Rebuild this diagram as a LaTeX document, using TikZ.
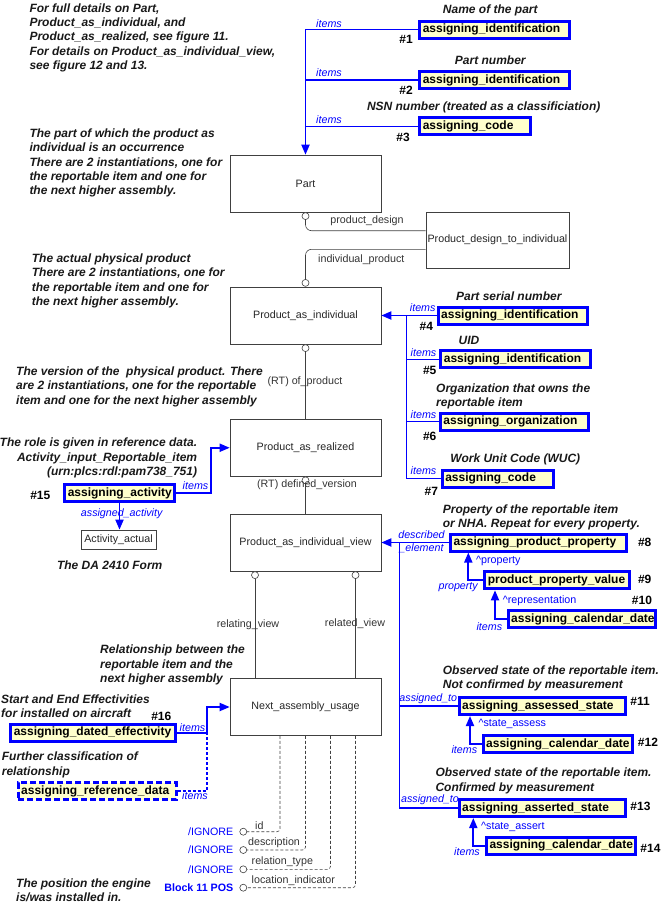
\documentclass[tikz,border=0pt]{standalone}
\usepackage{fontspec}
\setmainfont{Liberation Sans}
\usetikzlibrary{arrows.meta,calc}
\definecolor{cBlue}{HTML}{0000FF}
\definecolor{cYellow}{HTML}{FFFFCC}
\definecolor{cGray}{HTML}{404040}
\newcommand\cmtfont{\fontsize{12}{14.3}\selectfont\bfseries\itshape}
\newcommand\lblfont{\fontsize{10.7}{12.8}\selectfont}
\newcommand\boxfont{\fontsize{12}{14}\selectfont\bfseries}

\begin{document}
\begin{tikzpicture}[x=1pt, y=-1pt,
   ent/.style={draw=cGray, fill=white, semithick, minimum width=151pt,
               minimum height=57pt, inner sep=0pt, font=\lblfont, text=black!85},
   asg/.style={draw=cBlue, fill=cYellow, line width=3pt, inner xsep=3pt,
               inner ysep=0pt, minimum height=17pt, text width=#1, align=left,
               font=\boxfont, execute at begin node={\hyphenpenalty=10000 }},
   ring/.style={circle, draw=cGray, fill=white, semithick, minimum size=7pt, inner sep=0pt},
   rel/.style={draw=cGray, semithick},
   attr/.style={rel, dash pattern=on 3pt off 2pt, rounded corners=3pt},
   link/.style={cBlue, line width=1.3pt},
   blarr/.style={line width=1.8pt, -{Triangle[length=10pt,width=8pt]}},
   note/.style={font=\cmtfont, align=left, anchor=west, inner sep=0pt, text=black!90},
   num/.style={font=\boxfont, inner sep=0pt},
   role/.style={font=\lblfont, inner sep=0pt, text=black!80},
   itm/.style={font=\lblfont\itshape, inner sep=0pt, text=cBlue},
   bref/.style={font=\lblfont, inner sep=0pt, text=cBlue}]
  \useasboundingbox (0,0) rectangle (662,905);

  % entities
  \node[ent] (part) at (305.5,183.5) {Part};
  \node[ent, minimum width=143pt, minimum height=56pt] (pdti) at (497.5,240) {Product\_design\_to\_individual};
  \node[ent] (pai) at (305.5,315.5) {Product\_as\_individual};
  \node[ent] (par) at (305.5,447.75) {Product\_as\_realized};
  \node[ent] (paiv) at (305.5,542.5) {Product\_as\_individual\_view};
  \node[ent] (nau) at (305.5,707) {Next\_assembly\_usage};
  \node[ent, minimum width=75pt, minimum height=19.5pt] (actual) at (118.5,539.7) {Activity\_actual};

  % relations with rings
  \node[ring, anchor=north] (o1) at (part.south) {};
  \node[ring, anchor=south] (o2) at (pai.north) {};
  \node[ring, anchor=north] (o3) at (pai.south) {};
  \node[ring, anchor=north] (o4) at (par.south) {};
  \node[ring, anchor=north] (o5) at ([xshift=-50.5pt]paiv.south) {};
  \node[ring, anchor=north] (o6) at ([xshift=50pt]paiv.south) {};
  \draw[rel, rounded corners=6pt] (o1.south) |- ([yshift=9.3pt]pdti.west);
  \draw[rel, rounded corners=6pt] ([yshift=-9.3pt]pdti.west) -| (o2.north);
  \draw[rel] (o3.south) -- (par.north);
  \draw[rel] (o4.south) -- (paiv.north);
  \draw[rel] (o5.south) -- (o5.south |- nau.north);
  \draw[rel] (o6.south) -- (o6.south |- nau.north);
  \node[role] (l1) at (367,220.7) {product\_design};
  \node[role] (l2) at (361.3,260) {individual\_product};
  \node[role] (l3) at (305,381.7) {(RT) of\_product};
  \node[role] (l4) at (307,485) {(RT) defined\_version};
  \node[role] (l5) at (248,624.3) {relating\_view};
  \node[role] (l6) at (355,624) {related\_view};

  % attributes of Next_assembly_usage
  \node[ring] (a1) at (243.3,831.7) {};
  \node[ring] (a2) at (243.3,850) {};
  \node[ring] (a3) at (243.3,869.3) {};
  \node[ring] (a4) at (243.3,887.7) {};
  \draw[attr] ([xshift=-25.5pt]nau.south) |- (a1.east);
  \draw[attr] (nau.south) |- (a2.east);
  \draw[attr] ([xshift=25pt]nau.south) |- (a3.east);
  \draw[attr] ([xshift=50pt]nau.south) |- (a4.east);
  \node[role, anchor=south west] (l7) at (255,829.5) {id};
  \node[role, anchor=south west] (l8) at (248,847.8) {description};
  \node[role, anchor=south west] (l9) at (251.5,867.1) {relation\_type};
  \node[role, anchor=south west] (l10) at (251.5,885.5) {location\_indicator};
  \node[bref, anchor=east] (v1) at (233.5,831.7) {/IGNORE};
  \node[bref, anchor=east] (v2) at (233.5,850) {/IGNORE};
  \node[bref, anchor=east] (v3) at (233.5,869.3) {/IGNORE};
  \node[bref, anchor=east, font=\lblfont\bfseries] (v4) at (233.5,887.7) {Block 11 POS};

  % assignments on Part
  \node[asg=143.4pt] (id1) at (494.5,29.5) {assigning\_identification};
  \node[asg=143.4pt] (id2) at (494.5,80) {assigning\_identification};
  \node[asg=105pt] (code3) at (475.3,126.4) {assigning\_code};
  \draw[link, blarr] (id1.west) -| (part.north);
  \draw[link] (id2.west) -- (id2.west -| part.north);
  \draw[link] (code3.west) -- (code3.west -| part.north);
  \node[itm] (i1) at (329,24) {items};
  \node[itm] (i2) at (329,72.7) {items};
  \node[itm] (i3) at (329,119.3) {items};
  \node[num] (h1) at (406,39.3) {\#1};
  \node[num] (h2) at (406,90.7) {\#2};
  \node[num] (h3) at (403,137) {\#3};
  \node[note, anchor=center] (t1) at (490.3,10) {Name of the part};
  \node[note, anchor=center] (t2) at (490.3,60.7) {Part number};
  \node[note, anchor=center] (t3) at (483.7,107.3) {NSN number (treated as a classificiation)};

  % assignments on Product_as_individual
  \node[asg=143.6pt] (id4) at (513,315.5) {assigning\_identification};
  \node[asg=143.7pt] (id5) at (515.7,359.2) {assigning\_identification};
  \node[asg=141.7pt] (org6) at (514.3,421.7) {assigning\_organization};
  \node[asg=105.3pt] (code7) at (497.9,478.7) {assigning\_code};
  \coordinate (tr1) at (406.7,315.5);
  \draw[link, blarr] (id4.west) -- (pai.east);
  \draw[link] (id5.west) -| (tr1);
  \draw[link] (org6.west) -| (tr1);
  \draw[link] (code7.west) -| (tr1);
  \node[itm] (i4) at (422.7,307.3) {items};
  \node[itm] (i5) at (423.5,352.7) {items};
  \node[itm] (i6) at (423.5,414.3) {items};
  \node[itm] (i7) at (423.5,471) {items};
  \node[num] (h4) at (426.3,326.7) {\#4};
  \node[num] (h5) at (429.7,370.7) {\#5};
  \node[num] (h6) at (429.7,436.7) {\#6};
  \node[num] (h7) at (431.3,491) {\#7};
  \node[note, anchor=center] (t4) at (508.8,296) {Part serial number};
  \node[note, anchor=center] (t5) at (469,340) {UID};
  \node[note] (t6) at (436,396.5) {Organization that owns the\\reportable item};
  \node[note, anchor=center] (t7) at (515.3,459) {Work Unit Code (WUC)};

  % assignments on Product_as_individual_view
  \node[asg=170.3pt] (prop8) at (538.7,542.5) {assigning\_product\_property};
  \node[asg=138.7pt] (val9) at (557.2,580.3) {product\_property\_value};
  \node[asg=141.6pt] (cal10) at (582,619.2) {assigning\_calendar\_date};
  \node[asg=160pt] (st11) at (542.2,706) {assigning\_assessed\_state};
  \node[asg=143.6pt] (cal12) at (558,744) {assigning\_calendar\_date};
  \node[asg=160pt] (st13) at (542.2,808) {assigning\_asserted\_state};
  \node[asg=143.3pt] (cal14) at (561.2,845.7) {assigning\_calendar\_date};
  \coordinate (tr2) at (399.3,542.5);
  \draw[link, blarr] (prop8.west) -- (paiv.east);
  \draw[link] (st11.west) -| (tr2);
  \draw[link] (st13.west) -| (tr2);
  \draw[link, blarr] (val9.west) -| ([xshift=-70.4pt]prop8.south);
  \draw[link, blarr] (cal10.west) -| ([xshift=-62.2pt]val9.south);
  \draw[link, blarr] (cal12.west) -| ([xshift=-72.2pt]st11.south);
  \draw[link, blarr] (cal14.west) -| ([xshift=-68.9pt]st13.south);
  \node[itm, align=center] (i8) at (421.5,541.6) {described\\\_element};
  \node[itm, anchor=east] (i9) at (478,587.3) {property};
  \node[bref, anchor=west] (r9) at (476,561) {\textasciicircum property};
  \node[itm, anchor=east] (i10) at (502.3,626.7) {items};
  \node[bref, anchor=west] (r10) at (502.7,600.7) {\textasciicircum representation};
  \node[itm] (i11) at (428.3,698.3) {assigned\_to};
  \node[itm, anchor=east] (i12) at (477.3,749.3) {items};
  \node[bref, anchor=west] (r12) at (478.3,724.3) {\textasciicircum state\_assess};
  \node[itm] (i13) at (430,800) {assigned\_to};
  \node[itm, anchor=east] (i14) at (480,851.7) {items};
  \node[bref, anchor=west] (r14) at (481,826.7) {\textasciicircum state\_assert};
  \node[num] (h8) at (644.7,542.3) {\#8};
  \node[num] (h9) at (644.7,579.3) {\#9};
  \node[num] (h10) at (642,600) {\#10};
  \node[num] (h11) at (640,701.7) {\#11};
  \node[num] (h12) at (648,742.7) {\#12};
  \node[num] (h13) at (640.5,806.7) {\#13};
  \node[num] (h14) at (650.5,848.3) {\#14};
  \node[note] (t8) at (442.7,517.4) {Property of the reportable item\\or NHA. Repeat for every property.};
  \node[note] (t11) at (442.7,678.7) {Observed state of the reportable item.\\Not confirmed by measurement};
  \node[note] (t13) at (435.3,780.9) {Observed state of the reportable item.\\Confirmed by measurement};

  % activity and effectivity on the left
  \node[asg=103.4pt] (act15) at (119.5,493.3) {assigning\_activity};
  \node[asg=159pt] (eff16) at (93.3,732.8) {assigning\_dated\_effectivity};
  \node[asg=152pt, dash pattern=on 6pt off 3pt] (ref) at (97.2,791.2) {assigning\_reference\_data};
  \draw[link, blarr] (act15.east) -- ++(35pt,0) |- (par.west);
  \draw[link, blarr] (act15.south) -- (act15.south |- actual.north);
  \draw[link, blarr] (eff16.east) -- ++(29.4pt,0) |- (nau.west);
  \draw[link, line width=1.8pt, dash pattern=on 3pt off 2pt] (ref.east) -| ([xshift=29.4pt]eff16.east);
  \node[itm] (i15) at (195.5,485.7) {items};
  \node[itm] (i15b) at (121.7,513.3) {assigned\_activity};
  \node[itm] (i16) at (192.5,727.3) {items};
  \node[itm] (i17) at (195,795.7) {items};
  \node[num] (h15) at (40.3,495) {\#15};
  \node[num] (h16) at (161.3,716.7) {\#16};

  % comments
  \node[note] (n1) at (29.3,37.6) {For full details on Part,\\Product\_as\_individual, and\\Product\_as\_realized, see figure 11.\\For details on Product\_as\_individual\_view,\\see figure 12 and 13.};
  \node[note] (n2) at (29.3,163) {The part of which the product as\\individual is an occurrence\\There are 2 instantiations, one for\\the reportable item and one for\\the next higher assembly.};
  \node[note] (n3) at (31.7,281) {The actual physical product\\There are 2 instantiations, one for\\the reportable item and one for\\the next higher assembly.};
  \node[note] (n4) at (16,386.8) {The version of the \ physical product. There\\are 2 instantiations, one for the reportable\\item and one for the next higher assembly};
  \node[note, anchor=east, align=right] (n5) at (197.3,457.9) {The role is given in reference data.\\Activity\_input\_Reportable\_item\\(urn:plcs:rdl:pam738\_751)};
  \node[note, anchor=center] (n6) at (109.7,565) {The DA 2410 Form};
  \node[note] (n7) at (100,665) {Relationship between the\\reportable item and the\\next higher assembly};
  \node[note] (n8) at (1,706.3) {Start and End Effectivities\\for installed on aircraft};
  \node[note] (n9) at (1.7,765) {Further classification of\\relationship};
  \node[note] (n10) at (16,890.2) {The position the engine\\is/was installed in.};
\end{tikzpicture}
\end{document}
